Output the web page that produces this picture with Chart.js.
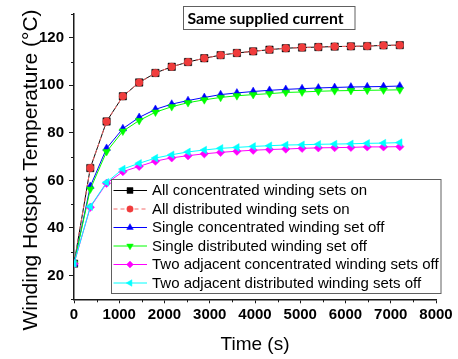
<!DOCTYPE html>
<html>
<head>
<meta charset="utf-8">
<script src="https://cdn.jsdelivr.net/npm/chart.js@4/dist/chart.umd.min.js"></script>
<style>
  html, body { margin: 0; padding: 0; background: #fff; }
  #wrap { width: 458px; height: 359px; position: relative; }
</style>
</head>
<body>
<div id="wrap"><canvas id="c" width="458" height="359"></canvas></div>
<script>
// Sampling instants (s)
const times = [0, 360, 720, 1080, 1440, 1800, 2160, 2520, 2880, 3240, 3600,
               3960, 4320, 4680, 5040, 5400, 5760, 6120, 6480, 6840, 7200];

// Winding hotspot temperature (°C) for each operating case
const allConcentratedOn = [25, 65.2, 84.8, 95.4, 101.2, 105.2, 107.8, 109.8, 111.4, 112.7, 113.6,
                           114.3, 115.0, 115.6, 115.9, 116.1, 116.3, 116.4, 116.5, 116.8, 116.9];
const allDistributedOn  = [25, 65.2, 84.8, 95.4, 101.2, 105.2, 107.8, 109.8, 111.4, 112.7, 113.6,
                           114.3, 115.0, 115.6, 115.9, 116.1, 116.3, 116.4, 116.5, 116.8, 116.9];
const singleConcentratedOff = [25, 57.5, 73.5, 81.8, 86.5, 89.9, 92.1, 93.6, 94.9, 96.1, 96.8,
                               97.4, 97.9, 98.3, 98.6, 98.9, 99.1, 99.3, 99.4, 99.5, 99.7];
const singleDistributedOff  = [25, 56.3, 72.1, 80.7, 85.2, 88.7, 91.0, 92.7, 93.9, 94.9, 95.6,
                               96.1, 96.5, 97.0, 97.2, 97.5, 97.7, 97.8, 97.9, 98.0, 98.1];
const twoConcentratedOff = [25, 48.7, 58.8, 63.7, 65.9, 68.1, 69.5, 70.4, 71.2, 71.8, 72.3,
                            72.7, 73.0, 73.2, 73.5, 73.7, 73.8, 73.9, 74.1, 74.1, 74.2];
const twoDistributedOff  = [25, 49.0, 59.2, 64.8, 67.2, 69.4, 70.8, 72.0, 72.8, 73.5, 73.9,
                            74.3, 74.6, 74.9, 75.0, 75.2, 75.3, 75.4, 75.6, 75.7, 75.9];

const seriesLabels = [
  'All concentrated winding sets on',
  'All distributed winding sets on',
  'Single concentrated winding set off',
  'Single distributed winding set off',
  'Two adjacent concentrated winding sets off',
  'Two adjacent distributed winding sets off'
];

const yMajorTicks = [20, 40, 60, 80, 100, 120];
const yMinorTicks = [10, 30, 50, 70, 90, 110, 130];
const xMinorTicks = [500, 1500, 2500, 3500, 4500, 5500, 6500, 7500];

const boxTitle = 'Same supplied current';
const xTitle = 'Time (s)';
const yTitle = 'Winding Hotspot Temperature (\u00B0C)';

const pts = arr => times.map((t, i) => ({ x: t, y: arr[i] }));

const styles = [
  { color: '#000000', point: 'rect',     rot: 0,   r: 5.2, lr: 4.2, dash: [] },
  { color: '#f03c3c', point: 'circle',   rot: 0,   r: 3.7, lr: 3.2, dash: [4, 3], line: '#f56a6a' },
  { color: '#0000ff', point: 'triangle', rot: 0,   r: 4.4, lr: 3.8, dash: [] },
  { color: '#00ff00', point: 'triangle', rot: 180, r: 4.4, lr: 3.8, dash: [] },
  { color: '#ff00ff', point: 'rectRot',  rot: 0,   r: 4.2, lr: 3.4, dash: [] },
  { color: '#00ffff', point: 'triangle', rot: 270, r: 4.4, lr: 3.8, dash: [] }
];
const values = [allConcentratedOn, allDistributedOn, singleConcentratedOff,
                singleDistributedOff, twoConcentratedOff, twoDistributedOff];

const datasets = values.map((v, i) => ({
  label: seriesLabels[i],
  data: pts(v),
  borderColor: styles[i].line || styles[i].color,
  backgroundColor: styles[i].color,
  borderWidth: 1,
  borderDash: styles[i].dash,
  pointStyle: styles[i].point,
  pointRotation: styles[i].rot,
  pointRadius: styles[i].r,
  pointBorderWidth: 0.5,
  pointBorderColor: styles[i].color,
  pointBackgroundColor: styles[i].color,
  tension: 0,
  order: 6 - i
}));

const sansFont = '"Liberation Sans", Arial, sans-serif';

function drawMarker(ctx, style, radius, x, y) {
  const opts = { pointStyle: style.point, rotation: style.rot, radius: radius, borderWidth: 0.5 };
  ctx.save();
  ctx.fillStyle = style.color;
  ctx.strokeStyle = style.color;
  ctx.lineWidth = 0.5;
  ctx.setLineDash([]);
  Chart.helpers.drawPoint(ctx, opts, x, y);
  ctx.restore();
}

// Minor tick marks on both axes, plus the vertical axis title
const axisExtras = {
  id: 'axisExtras',
  afterDraw(chart) {
    const { ctx, scales: { x, y }, chartArea } = chart;
    ctx.save();
    ctx.strokeStyle = '#1a1a1a';
    ctx.lineWidth = 1;
    yMinorTicks.forEach(v => {
      const py = Math.round(y.getPixelForValue(v)) + 0.5;
      ctx.beginPath();
      ctx.moveTo(chartArea.left - 3, py);
      ctx.lineTo(chartArea.left, py);
      ctx.stroke();
    });
    xMinorTicks.forEach(v => {
      const px = Math.round(x.getPixelForValue(v)) + 0.5;
      ctx.beginPath();
      ctx.moveTo(px, chartArea.bottom);
      ctx.lineTo(px, chartArea.bottom + 3);
      ctx.stroke();
    });
    ctx.translate(31, 170);
    ctx.rotate(-Math.PI / 2);
    ctx.fillStyle = '#000';
    ctx.font = '21px ' + sansFont;
    ctx.textAlign = 'center';
    ctx.textBaseline = 'middle';
    ctx.fillText(yTitle, 0, 0);
    ctx.restore();
  }
};

// Boxed note and boxed legend inside the plot
const annotations = {
  id: 'annotations',
  afterDraw(chart) {
    const ctx = chart.ctx;
    ctx.save();
    // note box
    ctx.fillStyle = '#ffffff';
    ctx.fillRect(183.5, 6.5, 171.5, 23);
    ctx.strokeStyle = '#606060';
    ctx.lineWidth = 1;
    ctx.strokeRect(183.5, 6.5, 171.5, 23);
    ctx.fillStyle = '#000000';
    ctx.font = 'bold 15.8px Lato';
    ctx.textAlign = 'center';
    ctx.textBaseline = 'middle';
    ctx.fillText(boxTitle, 265.5, 19);

    // legend box
    const bx = 111.5, by = 179.5, bw = 329.5, bh = 114;
    ctx.fillStyle = '#ffffff';
    ctx.fillRect(bx, by, bw, bh);
    ctx.strokeStyle = '#606060';
    ctx.strokeRect(bx, by, bw, bh);
    ctx.font = '15px ' + sansFont;
    ctx.textAlign = 'left';
    ctx.textBaseline = 'middle';
    chart.data.datasets.forEach((ds, i) => {
      const cy = 190.5 + i * 18.5;
      ctx.save();
      ctx.strokeStyle = ds.borderColor;
      ctx.lineWidth = 1;
      ctx.setLineDash(ds.borderDash || []);
      ctx.beginPath();
      ctx.moveTo(113.5, cy);
      ctx.lineTo(147, cy);
      ctx.stroke();
      ctx.restore();
      drawMarker(ctx, styles[i], styles[i].lr, 130, cy);
      ctx.fillStyle = '#000000';
      ctx.fillText(ds.label, 152, cy + 0.5);
    });
    ctx.restore();
  }
};

new Chart(document.getElementById('c'), {
  type: 'line',
  data: { datasets },
  options: {
    responsive: false,
    animation: false,
    devicePixelRatio: 1,
    layout: { padding: { left: 0, right: 22, top: 7.5, bottom: 0 } },
    plugins: { legend: { display: false }, tooltip: { enabled: false } },
    scales: {
      x: {
        type: 'linear',
        min: 0, max: 8000,
        ticks: {
          stepSize: 1000,
          color: '#000',
          padding: 3,
          maxRotation: 0,
          callback: v => String(v),
          font: { family: sansFont, size: 15, weight: 'bold' }
        },
        grid: { display: true, drawOnChartArea: false, drawTicks: true, tickLength: 4, color: '#1a1a1a', tickWidth: 1 },
        border: { display: true, color: '#1a1a1a', width: 1.5 },
        title: {
          display: true, text: xTitle, color: '#000',
          font: { family: sansFont, size: 19 },
          padding: { top: 0, bottom: 2.6 }
        },
        afterFit: s => { s.height = 59.7; }
      },
      y: {
        type: 'linear',
        min: 10, max: 130,
        afterBuildTicks: s => { s.ticks = yMajorTicks.map(v => ({ value: v })); },
        ticks: {
          color: '#000',
          padding: 5,
          callback: v => String(v),
          font: { family: sansFont, size: 15, weight: 'bold' }
        },
        grid: { display: true, drawOnChartArea: false, drawTicks: true, tickLength: 5, color: '#1a1a1a', tickWidth: 1 },
        border: { display: true, color: '#1a1a1a', width: 1.5 },
        title: { display: false },
        afterFit: s => { s.width = 74; }
      }
    }
  },
  plugins: [axisExtras, annotations]
});
</script>
</body>
</html>
